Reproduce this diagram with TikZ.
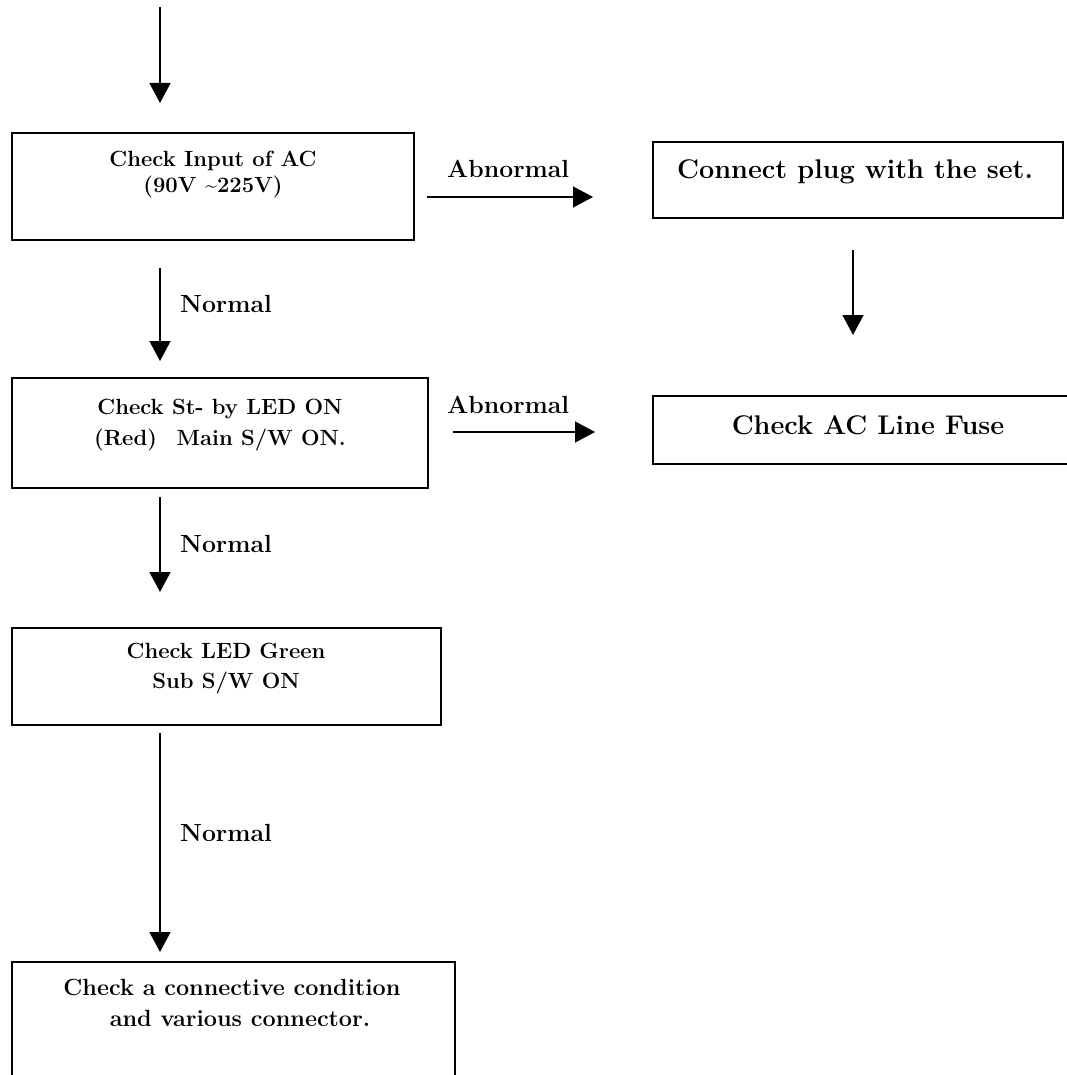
\documentclass[tikz,border=0pt]{standalone}
\usepackage{fontspec}
\usetikzlibrary{arrows.meta}
\begin{document}
\begin{tikzpicture}[x=1pt,y=-1pt,
  boxline/.style={draw=black,line width=1.8pt},
  arr/.style={draw=black,line width=1.4pt,-{Triangle[width=21pt,length=20pt]}},
  txt/.style={inner sep=0pt,anchor=base,font=\fontsize{22}{26}\selectfont\bfseries},
  bigtxt/.style={inner sep=0pt,anchor=base,font=\fontsize{27}{31}\selectfont\bfseries},
  lbl/.style={inner sep=0pt,anchor=base west,font=\fontsize{24.8}{28}\selectfont\bfseries}]
\useasboundingbox (0,0) rectangle (1066,1075);
\fill[white] (0,0) rectangle (1066,1075);

% boxes
\draw[boxline] (12,133) rectangle (414,240);
\draw[boxline] (653,142) rectangle (1063,218);
\draw[boxline] (1068,396) -- (653,396) -- (653,464) -- (1068,464);
\draw[boxline] (12,378) rectangle (428,488);
\draw[boxline] (12,628) rectangle (441,725);
\draw[boxline] (12,1078) -- (12,962) -- (455,962) -- (455,1078);

% box texts
\node[txt] (t1a) at (213,167) {Check Input of AC};
\node[txt] (t1b) at (213,193) {(90V \textasciitilde225V)};
\node[bigtxt,anchor=base west] (t2) at (677,179) {Connect plug with the set.};
\node[bigtxt] (t3) at (868,434) {Check AC Line Fuse};
\node[txt] (t4a) at (220,414) {Check St- by LED ON};
\node[txt] (t4b) at (220,445) {(Red)\hspace{0.9em}Main S/W ON.};
\node[txt] (t5a) at (226,658) {Check LED Green};
\node[txt] (t5b) at (226,688) {Sub S/W ON};
\node[txt,font=\fontsize{23.4}{27}\selectfont\bfseries] (t6a) at (232,995) {Check a connective condition};
\node[txt,font=\fontsize{23.4}{27}\selectfont\bfseries] (t6b) at (240,1026) {and various connector.};

% labels
\node[lbl] (ab1) at (447,178) {Abnormal};
\node[lbl] (ab2) at (447,413) {Abnormal};
\node[lbl] (n1) at (180,312) {Normal};
\node[lbl] (n2) at (180,552) {Normal};
\node[lbl] (n3) at (180,841) {Normal};

% arrow end points
\coordinate (s0) at (160,7);    \coordinate (e0) at (160,103);
\coordinate (s1) at (160,268);  \coordinate (e1) at (160,361);
\coordinate (s2) at (160,497);  \coordinate (e2) at (160,592);
\coordinate (s3) at (160,733);  \coordinate (e3) at (160,952);
\coordinate (h1s) at (427,197); \coordinate (h1e) at (593,197);
\coordinate (h2s) at (453,432); \coordinate (h2e) at (595,432);
\coordinate (vrs) at (853,250); \coordinate (vre) at (853,335);

\draw[arr] (s0) -- (e0);
\draw[arr] (s1) -- (e1);
\draw[arr] (s2) -- (e2);
\draw[arr] (s3) -- (e3);
\draw[arr] (h1s) -- (h1e);
\draw[arr] (h2s) -- (h2e);
\draw[arr] (vrs) -- (vre);
\end{tikzpicture}
\end{document}
